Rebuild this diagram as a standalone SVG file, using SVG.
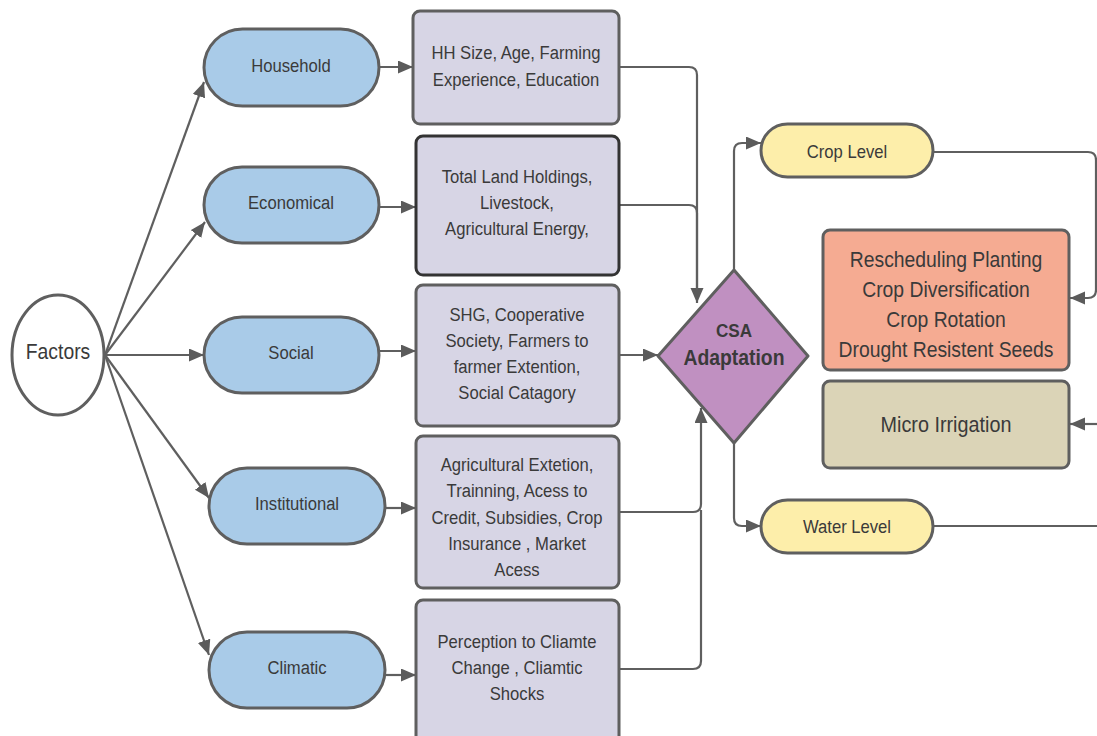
<svg xmlns="http://www.w3.org/2000/svg" width="1097" height="736" viewBox="0 0 1097 736">
<defs>
<marker id="arr" markerUnits="userSpaceOnUse" markerWidth="16" markerHeight="14" refX="15" refY="6.5" orient="auto">
<path d="M0,0 L15,6.5 L0,13 z" fill="#5b5b5b"/>
</marker>
<style>
.n{stroke:#5f5f5f;stroke-width:3}
.pill{fill:#a9cbe8}
.box{fill:#d7d5e5}
.yel{fill:#fdeeaa}
.c{fill:none;stroke:#5f5f5f;stroke-width:2.2}
text{font-family:"Liberation Sans",Arial,sans-serif;fill:#3a3a3a;text-anchor:middle;font-size:18.5px}
.b{font-weight:bold}
</style>
</defs>
<rect width="1097" height="736" fill="#ffffff"/>

<g id="connectors">
<path class="c" d="M105,355 L204,82" marker-end="url(#arr)"/>
<path class="c" d="M105,355 L205,222" marker-end="url(#arr)"/>
<path class="c" d="M105,355 L204,355" marker-end="url(#arr)"/>
<path class="c" d="M105,355 L209,498" marker-end="url(#arr)"/>
<path class="c" d="M105,355 L209,655" marker-end="url(#arr)"/>
<path class="c" d="M379,67 H413" marker-end="url(#arr)"/>
<path class="c" d="M379,207 H416" marker-end="url(#arr)"/>
<path class="c" d="M379,351 H416" marker-end="url(#arr)"/>
<path class="c" d="M385,508 H416" marker-end="url(#arr)"/>
<path class="c" d="M385,675 H416" marker-end="url(#arr)"/>
<path class="c" d="M619,67 H689 Q697,67 697,75 V303" marker-end="url(#arr)"/>
<path class="c" d="M619,205 H689 Q697,205 697,213 V290"/>
<path class="c" d="M619,355 H658" marker-end="url(#arr)"/>
<path class="c" d="M619,512 H693 Q701,512 701,504 V408" marker-end="url(#arr)"/>
<path class="c" d="M619,669 H693 Q701,669 701,661 V510"/>
<path class="c" d="M734,270 V151 Q734,143 742,143 H761" marker-end="url(#arr)"/>
<path class="c" d="M734,443 V518 Q734,526 742,526 H761" marker-end="url(#arr)"/>
<path class="c" d="M933,152 H1088 Q1096,152 1096,160 V290 Q1096,298 1088,298 H1070" marker-end="url(#arr)"/>
<path class="c" d="M1100,424 H1070" marker-end="url(#arr)"/>
<path class="c" d="M933,526 H1100"/>
</g>

<g id="factors">
<ellipse class="n" cx="58" cy="355" rx="46" ry="60" fill="#ffffff"/>
<text transform="translate(58,359) scale(0.9,1)" style="font-size:21.5px">Factors</text>
</g>

<g id="household">
<rect class="n pill" x="204" y="29" width="175" height="77" rx="38.5"/>
<text transform="translate(291,72) scale(0.9,1)">Household</text>
</g>
<g id="economical">
<rect class="n pill" x="204" y="167" width="175" height="76" rx="38"/>
<text transform="translate(291,209) scale(0.9,1)">Economical</text>
</g>
<g id="social">
<rect class="n pill" x="204" y="317" width="175" height="76" rx="38"/>
<text transform="translate(291,359) scale(0.9,1)">Social</text>
</g>
<g id="institutional">
<rect class="n pill" x="209" y="468" width="176" height="76" rx="38"/>
<text transform="translate(297,510) scale(0.9,1)">Institutional</text>
</g>
<g id="climatic">
<rect class="n pill" x="209" y="632" width="176" height="76" rx="38"/>
<text transform="translate(297,674) scale(0.9,1)">Climatic</text>
</g>

<g id="hh-box">
<rect class="n box" x="413" y="11" width="206" height="113" rx="7"/>
<g transform="translate(516,0) scale(0.9,1)">
<text x="0" y="59">HH Size, Age, Farming</text>
<text x="0" y="86">Experience, Education</text>
</g>
</g>
<g id="econ-box">
<rect class="box" x="416" y="136" width="203" height="139" rx="7" stroke="#333333" stroke-width="3"/>
<g transform="translate(517,0) scale(0.9,1)">
<text x="0" y="183">Total Land Holdings,</text>
<text x="0" y="209">Livestock,</text>
<text x="0" y="235">Agricultural Energy,</text>
</g>
</g>
<g id="social-box">
<rect class="n box" x="416" y="285" width="203" height="141" rx="7"/>
<g transform="translate(517,0) scale(0.9,1)">
<text x="0" y="321">SHG, Cooperative</text>
<text x="0" y="347">Society, Farmers to</text>
<text x="0" y="373">farmer Extention,</text>
<text x="0" y="399">Social Catagory</text>
</g>
</g>
<g id="inst-box">
<rect class="n box" x="416" y="436" width="203" height="152" rx="7"/>
<g transform="translate(517,0) scale(0.9,1)">
<text x="0" y="471">Agricultural Extetion,</text>
<text x="0" y="497">Trainning, Acess to</text>
<text x="0" y="524">Credit, Subsidies, Crop</text>
<text x="0" y="550">Insurance , Market</text>
<text x="0" y="576">Acess</text>
</g>
</g>
<g id="clim-box">
<rect class="n box" x="416" y="600" width="203" height="150" rx="7"/>
<g transform="translate(517,0) scale(0.9,1)">
<text x="0" y="648">Perception to Cliamte</text>
<text x="0" y="674">Change , Cliamtic</text>
<text x="0" y="700">Shocks</text>
</g>
</g>

<g id="csa">
<path class="n" d="M734,270 L808,356 L734,443 L658,356 Z" fill="#c090c1" stroke-linejoin="round"/>
<text class="b" transform="translate(734,337) scale(0.9,1)" style="font-size:19px">CSA</text>
<text class="b" transform="translate(734,365) scale(0.9,1)" style="font-size:21.5px">Adaptation</text>
</g>

<g id="crop-level">
<rect class="n yel" x="761" y="124" width="172" height="53" rx="26.5"/>
<text transform="translate(847,158) scale(0.9,1)" style="font-size:18.5px">Crop Level</text>
</g>
<g id="water-level">
<rect class="n yel" x="761" y="500" width="172" height="53" rx="26.5"/>
<text transform="translate(847,533) scale(0.9,1)" style="font-size:18.5px">Water Level</text>
</g>

<g id="crop-practices">
<rect class="n" x="823" y="230" width="246" height="140" rx="7" fill="#f5ab92"/>
<g transform="translate(946,0) scale(0.9,1)">
<text x="0" y="267" style="font-size:21.5px">Rescheduling Planting</text>
<text x="0" y="297" style="font-size:21.5px">Crop Diversification</text>
<text x="0" y="327" style="font-size:21.5px">Crop Rotation</text>
<text x="0" y="357" style="font-size:21.5px">Drought Resistent Seeds</text>
</g>
</g>
<g id="micro-irrigation">
<rect class="n" x="823" y="381" width="246" height="87" rx="7" fill="#dbd4b7"/>
<text transform="translate(946,432) scale(0.9,1)" style="font-size:22px">Micro Irrigation</text>
</g>
</svg>
